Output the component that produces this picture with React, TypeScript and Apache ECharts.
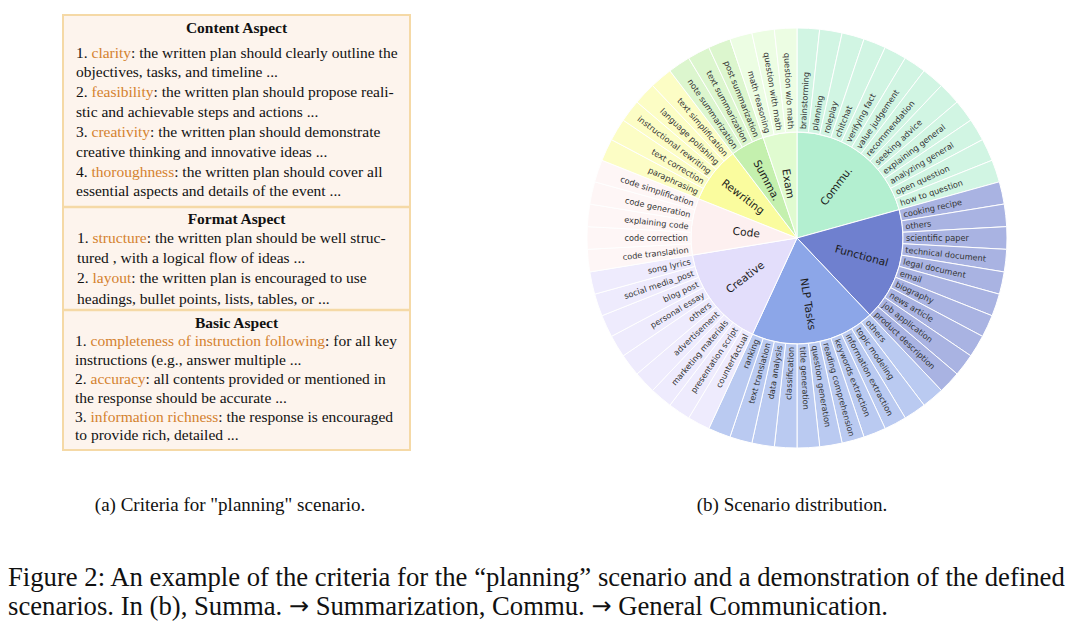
import React, { useEffect, useRef } from 'react';
import * as echarts from 'echarts';

// ---------------- data ----------------
const categories = ['Commu.', 'Functional', 'NLP Tasks', 'Creative', 'Code', 'Rewriting', 'Summa.', 'Exam'];

const commuScenarios = ['brainstorming', 'planning', 'roleplay', 'chitchat', 'verifying fact', 'value judgement', 'recommendation', 'seeking advice', 'explaining general', 'analyzing general', 'open question', 'how to question'];
const commuCounts = [1, 1, 1, 1, 1, 1, 1, 1, 1, 1, 1, 1];

const functionalScenarios = ['cooking recipe', 'others', 'scientific paper', 'technical document', 'legal document', 'email', 'biography', 'news article', 'job application', 'product description'];
const functionalCounts = [1, 1, 1, 1, 1, 1, 1, 1, 1, 1];

const nlpScenarios = ['others', 'topic modeling', 'information extraction', 'keywords extraction', 'reading comprehension', 'question generation', 'title generation', 'classification', 'data analysis', 'text translation', 'ranking'];
const nlpCounts = [1, 1, 1, 1, 1, 1, 1, 1, 1, 1, 1];

const creativeScenarios = ['counterfactual', 'presentation script', 'marketing materials', 'advertisement', 'others', 'personal essay', 'blog post', 'social media_post', 'song lyrics'];
const creativeCounts = [1, 1, 1, 1, 1, 1, 1, 1, 1];

const codeScenarios = ['code translation', 'code correction', 'explaining code', 'code generation', 'code simplification'];
const codeCounts = [1, 1, 1, 1, 1];

const rewritingScenarios = ['paraphrasing', 'text correction', 'instructional rewriting', 'language polishing', 'text simplification'];
const rewritingCounts = [1, 1, 1, 1, 1];

const summaScenarios = ['note summarization', 'text summarization', 'post summarization'];
const summaCounts = [1, 1, 1];

const examScenarios = ['math reasoning', 'question with math', 'question w/o math'];
const examCounts = [1, 1, 1];

const groupScenarios = [commuScenarios, functionalScenarios, nlpScenarios, creativeScenarios, codeScenarios, rewritingScenarios, summaScenarios, examScenarios];
const groupCounts = [commuCounts, functionalCounts, nlpCounts, creativeCounts, codeCounts, rewritingCounts, summaCounts, examCounts];

// left panel text ([...] marks highlighted words)
const contentLines = [
  '1. [clarity]: the written plan should clearly outline the',
  'objectives, tasks, and timeline ...',
  '2. [feasibility]: the written plan should propose reali-',
  'stic and achievable steps and actions ...',
  '3. [creativity]: the written plan should demonstrate',
  'creative thinking and innovative ideas ...',
  '4. [thoroughness]: the written plan should cover all',
  'essential aspects and details of the event ...',
];
const formatLines = [
  '1. [structure]: the written plan should be well struc-',
  'tured , with a logical flow of ideas ...',
  '2. [layout]: the written plan is encouraged to use',
  'headings, bullet points, lists, tables, or ...',
];
const basicLines = [
  '1. [completeness of instruction following]: for all key',
  'instructions (e.g., answer multiple ...',
  '2. [accuracy]: all contents provided or mentioned in',
  'the response should be accurate ...',
  '3. [information richness]: the response is encouraged',
  'to provide rich, detailed ...',
];
const sectionTitles = ['Content Aspect', 'Format Aspect', 'Basic Aspect'];
const subCaptions = ['(a) Criteria for "planning" scenario.', '(b) Scenario distribution.'];
const figureCaption = [
  'Figure 2: An example of the criteria for the \u201cplanning\u201d scenario and a demonstration of the defined',
  'scenarios. In (b), Summa. \u2192 Summarization, Commu. \u2192 General Communication.',
];

// ---------------- styles ----------------
const innerColors = ['#b3efd0', '#6f80cf', '#8ca6e8', '#e3defb', '#fdf0f0', '#fafc9e', '#c4f0ae', '#e0fbd0'];
const innerShift = [12, 14, 14, 12, -2, 15, 12, 2];
const rightHalf = [true, true, true, false, false, false, false, false];

function lighten(hex: string, t: number) {
  const n = parseInt(hex.slice(1), 16);
  const r = (n >> 16) & 255, g = (n >> 8) & 255, b = n & 255;
  const f = (c: number) => Math.round(c + (255 - c) * t);
  return `rgb(${f(r)},${f(g)},${f(b)})`;
}

const SERIF = '"Liberation Serif", "Times New Roman", serif';
const BODY_SIZE = 15.5;
const CAP_SIZE = 26.7;
const HIGHLIGHT = '#d4822f';

function toRich(line: string) {
  return line
    .split(/(\[[^\]]*\])/)
    .filter((s) => s.length > 0)
    .map((s) => (s.startsWith('[') ? `{h|${s.slice(1, -1)}}` : `{n|${s}}`))
    .join('');
}

function textLines(lines: string[], x: number, ys: number[]) {
  return lines.map((line, i) => ({
    type: 'text',
    x,
    y: ys[i],
    silent: true,
    style: {
      text: toRich(line),
      fill: '#111',
      font: `${BODY_SIZE}px ${SERIF}`,
      textAlign: 'left',
      textVerticalAlign: 'middle',
      align: 'left',
      verticalAlign: 'middle',
      rich: {
        n: { fill: '#111', fontSize: BODY_SIZE, fontFamily: SERIF },
        h: { fill: HIGHLIGHT, fontSize: BODY_SIZE, fontFamily: SERIF },
      },
    },
  }));
}

function centerText(text: string, x: number, y: number, size: number, bold = false) {
  return {
    type: 'text',
    x,
    y,
    silent: true,
    style: {
      text,
      fill: '#111',
      font: `${bold ? 'bold ' : ''}${size}px ${SERIF}`,
      textAlign: 'center',
      textVerticalAlign: 'middle',
      align: 'center',
      verticalAlign: 'middle',
    },
  };
}

function captionLine(text: string, y: number) {
  const rich = text
    .split(/(\u2192)/)
    .filter((s) => s.length > 0)
    .map((s) => (s === '\u2192' ? `{a|${s}}` : `{n|${s}}`))
    .join('');
  return {
    type: 'text',
    x: 8,
    y,
    silent: true,
    style: {
      text: rich,
      fill: '#111',
      font: `${CAP_SIZE}px ${SERIF}`,
      textAlign: 'left',
      textVerticalAlign: 'middle',
      align: 'left',
      verticalAlign: 'middle',
      rich: {
        n: { fill: '#111', fontSize: CAP_SIZE, fontFamily: SERIF },
        a: { fill: '#111', fontSize: 24, fontFamily: '"DejaVu Sans"' },
      },
    },
  };
}

export default function App() {
  const ref = useRef<HTMLDivElement>(null);

  useEffect(() => {
    if (!ref.current) return;
    const chart = echarts.init(ref.current, undefined, { renderer: 'svg' });

    const data = categories.map((name, gi) => {
      const s = innerShift[gi];
      const pad = 2 * Math.abs(s);
      const outward = (s >= 0) === rightHalf[gi];
      return {
        name,
        itemStyle: { color: innerColors[gi] },
        label: { padding: outward ? [0, 0, 0, pad] : [0, pad, 0, 0] },
        children: groupScenarios[gi].map((leaf, li) => ({
          name: leaf,
          value: groupCounts[gi][li],
          itemStyle: { color: lighten(innerColors[gi], 0.4) },
        })),
      };
    });

    const boxL = 63, boxR = 410, boxT = 15, boxB = 450;
    const sep1 = 207, sep2 = 310;
    const cx = (boxL + boxR) / 2;

    const graphic: any[] = [
      {
        type: 'rect',
        silent: true,
        shape: { x: boxL, y: boxT, width: boxR - boxL, height: boxB - boxT },
        style: { fill: '#fdf4ed', stroke: '#f5d9a6', lineWidth: 2 },
      },
      { type: 'line', silent: true, shape: { x1: boxL, y1: sep1, x2: boxR, y2: sep1 }, style: { stroke: '#f5d9a6', lineWidth: 2.5 } },
      { type: 'line', silent: true, shape: { x1: boxL, y1: sep2, x2: boxR, y2: sep2 }, style: { stroke: '#f5d9a6', lineWidth: 2.5 } },
      centerText(sectionTitles[0], cx, 27, BODY_SIZE, true),
      centerText(sectionTitles[1], cx, 218, BODY_SIZE, true),
      centerText(sectionTitles[2], cx, 322, BODY_SIZE, true),
      ...textLines(contentLines, 76, [52, 71, 91, 111, 131, 151, 171, 190]),
      ...textLines(formatLines, 77, [237, 257, 277, 298]),
      ...textLines(basicLines, 75, [340, 359, 378, 397, 416, 434]),
      centerText(subCaptions[0], 230, 504, 19),
      centerText(subCaptions[1], 792, 504, 19),
      captionLine(figureCaption[0], 577),
      captionLine(figureCaption[1], 606),
    ];

    chart.setOption({
      animation: false,
      backgroundColor: '#ffffff',
      graphic,
      series: [
        {
          type: 'sunburst',
          center: [797, 238],
          radius: [0, 210],
          sort: null,
          startAngle: 90,
          nodeClick: false,
          emphasis: { focus: 'none' },
          itemStyle: { borderColor: '#ffffff', borderWidth: 1 },
          label: { show: true, fontFamily: 'DejaVu Sans' },
          levels: [
            {},
            {
              r0: 0,
              r: 106,
              label: { rotate: 'radial', align: 'center', fontSize: 10.7, color: '#1c1c1c', fontFamily: 'DejaVu Sans' },
            },
            {
              r0: 106,
              r: 210,
              label: { rotate: 'radial', align: 'left', distance: 3, fontSize: 8.2, color: '#333333', fontFamily: 'DejaVu Sans' },
            },
          ],
          data,
        },
      ],
    });

    return () => chart.dispose();
  }, []);

  return <div ref={ref} style={{ position: 'absolute', left: 0, top: 0, width: 1074, height: 622 }} />;
}
